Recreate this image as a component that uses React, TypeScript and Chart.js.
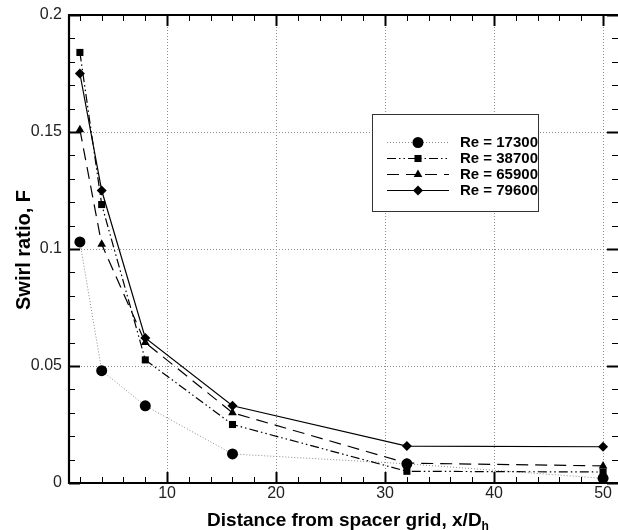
import React, { useEffect, useRef } from 'react';
import { Chart, registerables } from 'chart.js';

Chart.register(...registerables);

// ---- data ----
const xPositions = [2, 4, 8, 16, 32, 50];
const seriesLabels = ['Re = 17300', 'Re = 38700', 'Re = 65900', 'Re = 79600'];
const re17300 = [0.103, 0.048, 0.033, 0.0124, 0.0082, 0.002];
const re38700 = [0.184, 0.119, 0.0526, 0.025, 0.005, 0.0047];
const re65900 = [0.151, 0.102, 0.06, 0.03, 0.0085, 0.0073];
const re79600 = [0.175, 0.125, 0.062, 0.033, 0.0158, 0.0155];
const xTickValues = [10, 20, 30, 40, 50];
const yTickValues = [0, 0.05, 0.1, 0.15, 0.2];
const xTitle = 'Distance from spacer grid, x/D';
const xTitleSub = 'h';
const yTitle = 'Swirl ratio, F';

const FONT = '"Liberation Sans", Arial, sans-serif';

function drawMarker(ctx: CanvasRenderingContext2D, style: string, x: number, y: number, r: number) {
  ctx.beginPath();
  if (style === 'circle') {
    ctx.arc(x, y, r, 0, Math.PI * 2);
  } else if (style === 'rect') {
    const s = r * Math.SQRT1_2;
    ctx.rect(x - s, y - s, 2 * s, 2 * s);
  } else if (style === 'triangle') {
    for (let i = 0; i < 3; i++) {
      const a = (i * 2 * Math.PI) / 3;
      const px = x + Math.sin(a) * r;
      const py = y - Math.cos(a) * r;
      if (i === 0) ctx.moveTo(px, py);
      else ctx.lineTo(px, py);
    }
    ctx.closePath();
  } else if (style === 'rectRot') {
    ctx.moveTo(x, y - r);
    ctx.lineTo(x + r, y);
    ctx.lineTo(x, y + r);
    ctx.lineTo(x - r, y);
    ctx.closePath();
  }
  ctx.fill();
}

const framePlugin = {
  id: 'frameAndExtras',
  afterDraw(chart: any) {
    const { ctx, chartArea } = chart;
    const xs = chart.scales.x;
    const ys = chart.scales.y;
    const { left, right, top, bottom } = chartArea;
    ctx.save();
    // inward ticks
    ctx.strokeStyle = '#000';
    const tickX = (v: number, len: number, w: number) => {
      const px = Math.round(xs.getPixelForValue(v)) + 0.5;
      ctx.lineWidth = w;
      ctx.beginPath();
      ctx.moveTo(px, bottom);
      ctx.lineTo(px, bottom - len);
      ctx.moveTo(px, top);
      ctx.lineTo(px, top + len);
      ctx.stroke();
    };
    const tickY = (v: number, len: number, w: number) => {
      const py = Math.round(ys.getPixelForValue(v)) + 0.5;
      ctx.lineWidth = w;
      ctx.beginPath();
      ctx.moveTo(left, py);
      ctx.lineTo(left + len, py);
      ctx.moveTo(right, py);
      ctx.lineTo(right - len, py);
      ctx.stroke();
    };
    for (let v = 2; v <= xs.max; v += 2) {
      if (v % 10 !== 0) tickX(v, 6, 1);
    }
    xTickValues.forEach((v) => tickX(v, 11, 2));
    for (let i = 1; i < 20; i++) {
      if (i % 5 !== 0) tickY(i * 0.01, 6, 1);
    }
    yTickValues.forEach((v) => tickY(v, 11, 2));

    // frame (right side lies just outside the picture)
    ctx.lineWidth = 2.2;
    ctx.strokeStyle = '#000';
    ctx.beginPath();
    ctx.moveTo(right + 2, top);
    ctx.lineTo(left, top);
    ctx.lineTo(left, bottom);
    ctx.lineTo(right + 2, bottom);
    ctx.stroke();

    // axis titles
    ctx.fillStyle = '#000';
    ctx.font = `bold 19px ${FONT}`;
    ctx.textBaseline = 'alphabetic';
    const mainW = ctx.measureText(xTitle).width;
    ctx.font = `bold 12px ${FONT}`;
    const subW = ctx.measureText(xTitleSub).width;
    const totalW = mainW + subW;
    const cx = 348;
    const startX = cx - totalW / 2;
    ctx.font = `bold 19px ${FONT}`;
    ctx.textAlign = 'left';
    ctx.fillText(xTitle, startX, 526);
    ctx.font = `bold 12px ${FONT}`;
    ctx.fillText(xTitleSub, startX + mainW, 530);

    ctx.save();
    ctx.translate(30, 250);
    ctx.rotate(-Math.PI / 2);
    ctx.font = `bold 20px ${FONT}`;
    ctx.textAlign = 'center';
    ctx.fillText(yTitle, 0, 0);
    ctx.restore();

    // legend
    const bx = 372.5, by = 114.5, bw = 166, bh = 97;
    ctx.fillStyle = '#fff';
    ctx.fillRect(bx, by, bw, bh);
    ctx.lineWidth = 1;
    ctx.strokeStyle = '#333';
    ctx.strokeRect(bx, by, bw, bh);
    const rowY = [142, 158, 174, 190];
    chart.data.datasets.forEach((ds: any, i: number) => {
      const y = rowY[i];
      ctx.save();
      ctx.strokeStyle = ds.borderColor;
      ctx.lineWidth = ds.borderWidth;
      ctx.setLineDash(ds.borderDash || []);
      ctx.beginPath();
      ctx.moveTo(387, y + 0.5);
      ctx.lineTo(449, y + 0.5);
      ctx.stroke();
      ctx.restore();
      ctx.fillStyle = '#000';
      drawMarker(ctx, ds.pointStyle, 418, y + 0.5, ds.pointRadius);
      ctx.font = `bold 15px ${FONT}`;
      ctx.textAlign = 'left';
      ctx.textBaseline = 'middle';
      ctx.fillText(ds.label, 460, y + 1);
    });
    ctx.restore();
  },
};

export default function App() {
  const ref = useRef<HTMLCanvasElement | null>(null);
  useEffect(() => {
    const canvas = ref.current;
    if (!canvas) return;
    const mk = (vals: number[]) => xPositions.map((x, i) => ({ x, y: vals[i] }));
    const gridColor = '#8c8c8c';
    const chart = new Chart(canvas, {
      type: 'line',
      data: {
        datasets: [
          {
            label: seriesLabels[0],
            data: mk(re17300),
            order: 4,
            borderColor: '#8a8a8a',
            borderWidth: 1,
            borderDash: [1, 2],
            pointStyle: 'circle',
            pointRadius: 5.5,
            pointBackgroundColor: '#000',
            pointBorderColor: '#000',
            pointBorderWidth: 0,
          },
          {
            label: seriesLabels[1],
            data: mk(re38700),
            order: 3,
            borderColor: '#000',
            borderWidth: 1.2,
            borderDash: [9, 3, 1.5, 3, 1.5, 3],
            pointStyle: 'rect',
            pointRadius: 5,
            pointBackgroundColor: '#000',
            pointBorderColor: '#000',
            pointBorderWidth: 0,
          },
          {
            label: seriesLabels[2],
            data: mk(re65900),
            order: 2,
            borderColor: '#000',
            borderWidth: 1.2,
            borderDash: [12, 7],
            pointStyle: 'triangle',
            pointRadius: 5,
            pointBackgroundColor: '#000',
            pointBorderColor: '#000',
            pointBorderWidth: 0,
          },
          {
            label: seriesLabels[3],
            data: mk(re79600),
            order: 1,
            borderColor: '#000',
            borderWidth: 1.2,
            borderDash: [],
            pointStyle: 'rectRot',
            pointRadius: 5,
            pointBackgroundColor: '#000',
            pointBorderColor: '#000',
            pointBorderWidth: 0,
          },
        ] as any,
      },
      options: {
        responsive: false,
        animation: false,
        events: [],
        layout: { autoPadding: false, padding: { top: 15, right: 0, left: 0, bottom: 0 } },
        plugins: { legend: { display: false }, tooltip: { enabled: false } },
        scales: {
          x: {
            type: 'linear',
            min: 1,
            max: 51.37,
            afterBuildTicks: (scale: any) => {
              scale.ticks = xTickValues.map((v) => ({ value: v }));
            },
            afterFit: (scale: any) => {
              scale.height = 47;
              scale.paddingLeft = 0;
              scale.paddingRight = 0;
            },
            border: { display: false, dash: [1, 2] },
            grid: {
              drawTicks: false,
              color: gridColor,
              lineWidth: 1,
            },
            ticks: {
              padding: 1,
              color: '#222',
              font: { family: FONT, size: 16 },
              maxRotation: 0,
              callback: (v: any) => String(v),
            },
          },
          y: {
            type: 'linear',
            min: 0,
            max: 0.2,
            afterBuildTicks: (scale: any) => {
              scale.ticks = yTickValues.map((v) => ({ value: v }));
            },
            afterFit: (scale: any) => {
              scale.width = 69;
              scale.paddingTop = 0;
              scale.paddingBottom = 0;
            },
            border: { display: false, dash: [1, 2] },
            grid: {
              drawTicks: false,
              color: (c: any) =>
                c.tick && (c.tick.value === 0 || c.tick.value === 0.2) ? 'rgba(0,0,0,0)' : gridColor,
              lineWidth: 1,
            },
            ticks: {
              padding: 7,
              color: '#222',
              font: { family: FONT, size: 16 },
              callback: (v: any) => String(Math.round(Number(v) * 100) / 100),
            },
          },
        } as any,
      },
      plugins: [framePlugin],
    } as any);
    return () => chart.destroy();
  }, []);

  return (
    <div style={{ position: 'fixed', left: 0, top: 0, width: 618, height: 530, overflow: 'hidden', background: '#fff' }}>
      <canvas ref={ref} width={618} height={530} style={{ display: 'block', width: 618, height: 530 }} />
    </div>
  );
}
